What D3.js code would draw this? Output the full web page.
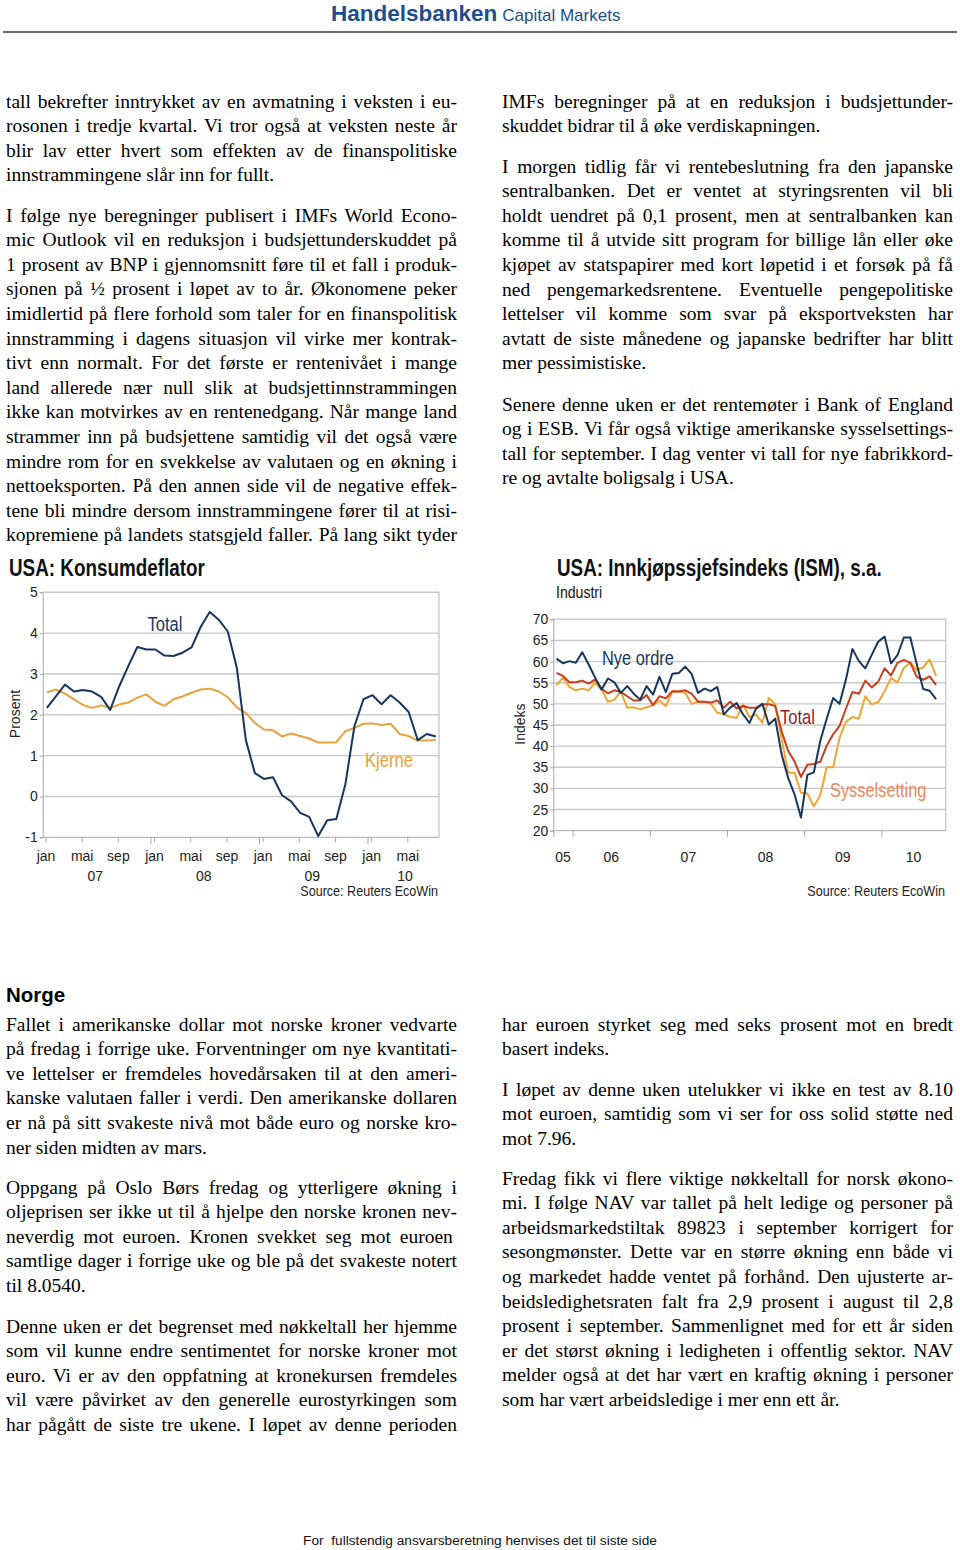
<!DOCTYPE html>
<html><head><meta charset="utf-8">
<script src="https://cdn.jsdelivr.net/npm/d3@7"></script>
<style>
body{margin:0;background:#fff;}
svg{display:block;background:#fff;}
.bt{font-family:"Liberation Serif","Times New Roman",serif;font-size:19.5px;fill:#000;}
.ax text{font-family:"Liberation Sans",Arial,sans-serif;font-size:14px;fill:#222;}
</style></head><body>
<svg id="page" width="960" height="1550"></svg>
<script>
// ---------------- DATA ----------------
// Chart 1: USA Konsumdeflator, monthly Jan 2007 - Aug 2010 (yoy %)
const konsumTotal = [2.17,2.45,2.74,2.57,2.61,2.57,2.44,2.12,2.70,3.19,3.66,3.60,3.60,3.45,3.44,3.52,3.65,4.15,4.52,4.33,4.04,3.15,1.38,0.57,0.43,0.47,0.03,-0.12,-0.40,-0.50,-0.97,-0.58,-0.55,0.30,1.72,2.38,2.48,2.26,2.48,2.30,2.07,1.38,1.53,1.47];
const konsumKjerne = [2.55,2.62,2.52,2.38,2.24,2.17,2.23,2.17,2.25,2.30,2.42,2.50,2.32,2.22,2.38,2.45,2.54,2.62,2.64,2.57,2.43,2.18,2.04,1.80,1.64,1.62,1.47,1.54,1.48,1.42,1.32,1.32,1.33,1.60,1.68,1.78,1.79,1.75,1.78,1.53,1.48,1.37,1.37,1.39];
const konsumYTicks = [-1,0,1,2,3,4,5];
const konsumMonthLabels = ["jan","mai","sep","jan","mai","sep","jan","mai","sep","jan","mai"];
const konsumYearLabels = ["07","08","09","10"];

// Chart 2: USA ISM manufacturing, monthly Oct 2005 - Sep 2010
const ismNyeOrdre = [60.7,59.6,60.1,59.7,62.2,59.3,56.2,53.4,56.0,55.1,52.6,54.2,52.4,51.0,54.2,52.2,56.4,52.8,57.1,57.3,58.8,57.1,52.6,53.6,53.0,54.0,47.5,49.1,50.2,47.5,45.5,48.8,50.0,45.1,46.5,38.0,32.5,28.6,23.1,33.2,33.8,41.2,46.5,51.4,50.0,55.8,63.0,60.1,58.4,61.6,64.7,65.9,59.6,61.5,65.7,65.7,59.4,53.5,53.1,51.1];
const ismTotal = [57.3,56.6,55.1,55.1,55.5,54.8,55.8,53.6,52.5,53.2,52.8,51.8,50.8,50.8,52.1,49.7,51.8,51.3,53.0,52.9,53.2,52.4,50.5,50.5,50.3,50.8,49.1,50.5,48.9,49.5,49.1,49.1,49.9,49.9,49.5,43.5,38.9,36.4,32.7,35.6,35.8,36.3,40.1,42.8,44.8,48.9,52.8,52.4,55.5,53.9,55.2,58.4,56.7,59.7,60.4,59.7,56.4,55.7,56.5,54.5];
const ismSysselsetting = [54.4,56.2,54.0,53.2,53.6,53.2,55.0,53.4,50.5,51.0,52.9,49.1,49.2,48.7,49.2,49.7,50.8,49.5,52.9,52.9,52.6,50.0,50.5,50.5,50.0,47.9,47.6,46.9,46.7,49.9,46.9,47.5,45.5,51.4,49.9,41.6,33.7,33.7,29.0,28.8,25.8,28.4,35.0,35.0,42.0,45.8,46.9,46.5,51.8,49.9,50.4,53.0,56.1,55.1,58.5,59.8,58.0,58.6,60.5,56.6];
const ismYTicks = [20,25,30,35,40,45,50,55,60,65,70];
const ismYearLabels = ["05","06","07","08","09","10"];

// ---------------- TEXT ----------------
const textBlocks = [
 {x:6, y:100, last:false, lines:[
  "tall bekrefter inntrykket av en avmatning i veksten i eu-",
  "rosonen i tredje kvartal. Vi tror også at veksten neste år",
  "blir lav etter hvert som effekten av de finanspolitiske",
  "innstrammingene slår inn for fullt."]},
 {x:6, y:214, last:true, lines:[
  "I følge nye beregninger publisert i IMFs World Econo-",
  "mic Outlook vil en reduksjon i budsjettunderskuddet på",
  "1 prosent av BNP i gjennomsnitt føre til et fall i produk-",
  "sjonen på ½ prosent i løpet av to år. Økonomene peker",
  "imidlertid på flere forhold som taler for en finanspolitisk",
  "innstramming i dagens situasjon vil virke mer kontrak-",
  "tivt enn normalt. For det første er rentenivået i mange",
  "land allerede nær null slik at budsjettinnstrammingen",
  "ikke kan motvirkes av en rentenedgang. Når mange land",
  "strammer inn på budsjettene samtidig vil det også være",
  "mindre rom for en svekkelse av valutaen og en økning i",
  "nettoeksporten. På den annen side vil de negative effek-",
  "tene bli mindre dersom innstrammingene fører til at risi-",
  "kopremiene på landets statsgjeld faller. På lang sikt tyder"]},
 {x:502, y:100, last:false, lines:[
  "IMFs beregninger på at en reduksjon i budsjettunder-",
  "skuddet bidrar til å øke verdiskapningen."]},
 {x:502, y:165, last:false, lines:[
  "I morgen tidlig får vi rentebeslutning fra den japanske",
  "sentralbanken. Det er ventet at styringsrenten vil bli",
  "holdt uendret på 0,1 prosent, men at sentralbanken kan",
  "komme til å utvide sitt program for billige lån eller øke",
  "kjøpet av statspapirer med kort løpetid i et forsøk på få",
  "ned pengemarkedsrentene. Eventuelle pengepolitiske",
  "lettelser vil komme som svar på eksportveksten har",
  "avtatt de siste månedene og japanske bedrifter har blitt",
  "mer pessimistiske."]},
 {x:502, y:403, last:false, lines:[
  "Senere denne uken er det rentemøter i Bank of England",
  "og i ESB. Vi får også viktige amerikanske sysselsettings-",
  "tall for september. I dag venter vi tall for nye fabrikkord-",
  "re og avtalte boligsalg i USA."]},
 {x:6, y:1023, last:false, lines:[
  "Fallet i amerikanske dollar mot norske kroner vedvarte",
  "på fredag i forrige uke. Forventninger om nye kvantitati-",
  "ve lettelser er fremdeles hovedårsaken til at den ameri-",
  "kanske valutaen faller i verdi. Den amerikanske dollaren",
  "er nå på sitt svakeste nivå mot både euro og norske kro-",
  "ner siden midten av mars."]},
 {x:6, y:1186, last:false, lines:[
  "Oppgang på Oslo Børs fredag og ytterligere økning i",
  "oljeprisen ser ikke ut til å hjelpe den norske kronen nev-",
  "neverdig mot euroen.  Kronen svekket seg mot euroen",
  "samtlige dager i forrige uke og ble på det svakeste notert",
  "til 8.0540."]},
 {x:6, y:1325, last:true, lines:[
  "Denne uken er det begrenset med nøkkeltall her hjemme",
  "som vil kunne endre sentimentet for norske kroner mot",
  "euro. Vi er av den oppfatning at kronekursen fremdeles",
  "vil være påvirket av den generelle eurostyrkingen som",
  "har pågått de siste tre ukene. I løpet av denne perioden"]},
 {x:502, y:1023, last:false, lines:[
  "har euroen styrket seg med seks prosent mot en bredt",
  "basert indeks."]},
 {x:502, y:1088, last:false, lines:[
  "I løpet av denne uken utelukker vi ikke en test av 8.10",
  "mot euroen, samtidig som vi ser for oss solid støtte ned",
  "mot 7.96."]},
 {x:502, y:1177, last:false, lines:[
  "Fredag fikk vi flere viktige nøkkeltall for norsk økono-",
  "mi. I følge NAV var tallet på helt ledige og personer på",
  "arbeidsmarkedstiltak 89823 i september korrigert for",
  "sesongmønster. Dette var en større økning enn både vi",
  "og markedet hadde ventet på forhånd. Den ujusterte ar-",
  "beidsledighetsraten falt fra 2,9 prosent i august til 2,8",
  "prosent i september. Sammenlignet med for ett år siden",
  "er det størst økning i ledigheten i offentlig sektor. NAV",
  "melder også at det har vært en kraftig økning i personer",
  "som har vært arbeidsledige i mer enn ett år."]}
];

// ---------------- DRAW ----------------
const svg = d3.select("#page");
svg.append("rect").attr("width",960).attr("height",1550).attr("fill","#fff");

// condensed-looking sans text (no narrow font installed -> horizontal scale)
function ntext(g, o) {
  const tr = `translate(${o.x},${o.y})` + (o.rot ? ` rotate(${o.rot})` : "") + ` scale(${o.sx || 1},1)`;
  return g.append("text").attr("transform", tr)
    .attr("font-family","Liberation Sans, Arial, sans-serif")
    .attr("font-size", o.size).attr("font-weight", o.bold ? "bold" : "normal")
    .attr("fill", o.fill || "#222").attr("text-anchor", o.anchor || "start").text(o.text);
}

// header
const hdr = svg.append("text").attr("x",331).attr("y",21)
  .attr("font-family","Liberation Sans, Arial, sans-serif").attr("fill","#1d4f8e");
hdr.append("tspan").attr("font-weight","bold").attr("font-size",22.5).text("Handelsbanken");
hdr.append("tspan").attr("font-size",17).attr("dx",5).text("Capital Markets");
svg.append("line").attr("x1",3).attr("x2",957).attr("y1",32).attr("y2",32)
  .attr("stroke","#3a3a3a").attr("stroke-width",1.6);

// body text
const LH = 24.6, COLW = 451;
textBlocks.forEach(b => {
  b.lines.forEach((ln, i) => {
    const t = svg.append("text").attr("class","bt").attr("x",b.x).attr("y",b.y + 7.5 + i*LH).text(ln);
    const isLast = i === b.lines.length - 1;
    if (!isLast || b.last) {
      const w = t.node().getComputedTextLength();
      const gaps = (ln.match(/ /g) || []).length;
      if (gaps > 0) t.style("word-spacing", ((COLW - w) / gaps) + "px");
    }
  });
});

// Norge heading
svg.append("text").attr("x",6).attr("y",1002).attr("font-family","Liberation Sans, Arial, sans-serif")
  .attr("font-weight","bold").attr("font-size",20.5).text("Norge");

// footer
svg.append("text").attr("x",480).attr("y",1545).attr("text-anchor","middle")
  .attr("font-family","Liberation Sans, Arial, sans-serif").attr("font-size",13.7).attr("fill","#111")
  .style("white-space","pre")
  .text("For  fullstendig ansvarsberetning henvises det til siste side");

const GRID = "#c9c9c9", AXC = "#a8a8a8";

// -------- Chart 1 --------
{
  const g = svg.append("g");
  const x = d3.scaleLinear().domain([-0.31, 43.5]).range([42.7, 439]);
  const y = d3.scaleLinear().domain([-1, 5]).range([837.3, 592.3]);
  const [L, R] = x.range();
  g.selectAll("line.g").data(konsumYTicks.filter(d=>d>-1)).join("line")
    .attr("x1",L).attr("x2",R).attr("y1",d=>y(d)).attr("y2",d=>y(d))
    .attr("stroke",GRID).attr("stroke-width",1.4);
  g.append("line").attr("x1",R).attr("x2",R).attr("y1",y(5)).attr("y2",y(-1)).attr("stroke",GRID).attr("stroke-width",1.4);
  const ya = g.append("g").attr("class","ax").attr("transform",`translate(${L},0)`)
    .call(d3.axisLeft(y).tickValues(konsumYTicks).tickSize(3).tickPadding(2).tickFormat(d=>String(d)));
  ya.select(".domain").attr("stroke",AXC);
  ya.selectAll(".tick line").attr("stroke",AXC);
  const monthTicks = konsumMonthLabels.map((d,i)=>i*4);
  const xa = g.append("g").attr("class","ax").attr("transform",`translate(0,${y(-1)})`)
    .call(d3.axisBottom(x).tickValues(monthTicks).tickSize(5).tickPadding(9).tickFormat((d,i)=>konsumMonthLabels[i]));
  xa.select(".domain").attr("stroke",AXC).attr("d",`M${L},0H${R}`);
  xa.selectAll(".tick line").attr("stroke",AXC);
  g.selectAll("line.yt").data([12,24,36]).join("line")
    .attr("x1",d=>x(d-0.35)).attr("x2",d=>x(d-0.35)).attr("y1",y(-1)).attr("y2",y(-1)+7).attr("stroke",AXC);
  const yearCenters = [5.5, 17.5, 29.5, 39.75];
  konsumYearLabels.forEach((d,i)=>ntext(g,{x:x(yearCenters[i]),y:881,text:d,size:14,anchor:"middle"}));
  const line = d3.line().x((d,i)=>x(i+0.15)).y(d=>y(d));
  g.append("path").datum(konsumKjerne).attr("d",line).attr("fill","none").attr("stroke","#e9a23b").attr("stroke-width",2).attr("stroke-linejoin","round");
  g.append("path").datum(konsumTotal).attr("d",line).attr("fill","none").attr("stroke","#17365d").attr("stroke-width",2).attr("stroke-linejoin","round");
  ntext(g,{x:9,y:576,text:"USA: Konsumdeflator",size:23,bold:true,fill:"#111",sx:0.82});
  ntext(g,{x:20,y:714,rot:-90,text:"Prosent",size:14,anchor:"middle"});
  ntext(g,{x:165,y:631,text:"Total",size:19.5,fill:"#17365d",anchor:"middle",sx:0.85});
  ntext(g,{x:389,y:767,text:"Kjerne",size:19.5,fill:"#e8a030",anchor:"middle",sx:0.85});
  ntext(g,{x:438,y:896,text:"Source: Reuters EcoWin",size:14,anchor:"end",sx:0.9});
}

// -------- Chart 2 --------
{
  const g = svg.append("g");
  const x = d3.scaleLinear().domain([-3, 58]).range([553.3, 945.7]);
  const y = d3.scaleLinear().domain([20, 70]).range([830.7, 619.3]);
  const [L, R] = x.range();
  g.selectAll("line.g").data(ismYTicks.filter(d=>d>20)).join("line")
    .attr("x1",L).attr("x2",R).attr("y1",d=>y(d)).attr("y2",d=>y(d))
    .attr("stroke",GRID).attr("stroke-width",1.4);
  g.append("line").attr("x1",R).attr("x2",R).attr("y1",y(70)).attr("y2",y(20)).attr("stroke",GRID).attr("stroke-width",1.4);
  const ya = g.append("g").attr("class","ax").attr("transform",`translate(${L},0)`)
    .call(d3.axisLeft(y).tickValues(ismYTicks).tickSize(3).tickPadding(2).tickFormat(d=>String(d)));
  ya.select(".domain").attr("stroke",AXC);
  ya.selectAll(".tick line").attr("stroke",AXC);
  const xa = g.append("g").attr("class","ax").attr("transform",`translate(0,${y(20)})`)
    .call(d3.axisBottom(x).tickValues([-3,0,12,24,36,48]).tickSize(6).tickFormat(""));
  xa.select(".domain").attr("stroke",AXC).attr("d",`M${L},0H${R}`);
  xa.selectAll(".tick line").attr("stroke",AXC);
  const yearCenters = [-1.5, 6, 18, 30, 42, 53];
  ismYearLabels.forEach((d,i)=>ntext(g,{x:x(yearCenters[i]),y:862,text:d,size:14,anchor:"middle"}));
  const line = d3.line().x((d,i)=>x(i-2.5)).y(d=>y(d));
  g.append("path").datum(ismSysselsetting).attr("d",line).attr("fill","none").attr("stroke","#eea632").attr("stroke-width",2).attr("stroke-linejoin","round");
  g.append("path").datum(ismTotal).attr("d",line).attr("fill","none").attr("stroke","#c8401e").attr("stroke-width",2).attr("stroke-linejoin","round");
  g.append("path").datum(ismNyeOrdre).attr("d",line).attr("fill","none").attr("stroke","#17365d").attr("stroke-width",2).attr("stroke-linejoin","round");
  ntext(g,{x:557,y:576,text:"USA: Innkjøpssjefsindeks (ISM), s.a.",size:23,bold:true,fill:"#111",sx:0.82});
  ntext(g,{x:556,y:598,text:"Industri",size:16,fill:"#111",sx:0.88});
  ntext(g,{x:525,y:724,rot:-90,text:"Indeks",size:14,anchor:"middle"});
  ntext(g,{x:602,y:665,text:"Nye ordre",size:19.5,fill:"#17365d",sx:0.84});
  ntext(g,{x:780,y:724,text:"Total",size:19.5,fill:"#8c1f2f",sx:0.85});
  ntext(g,{x:830,y:797,text:"Sysselsetting",size:19.5,fill:"#ec8a5a",sx:0.84});
  ntext(g,{x:945,y:896,text:"Source: Reuters EcoWin",size:14,anchor:"end",sx:0.9});
}
</script>
</body></html>
